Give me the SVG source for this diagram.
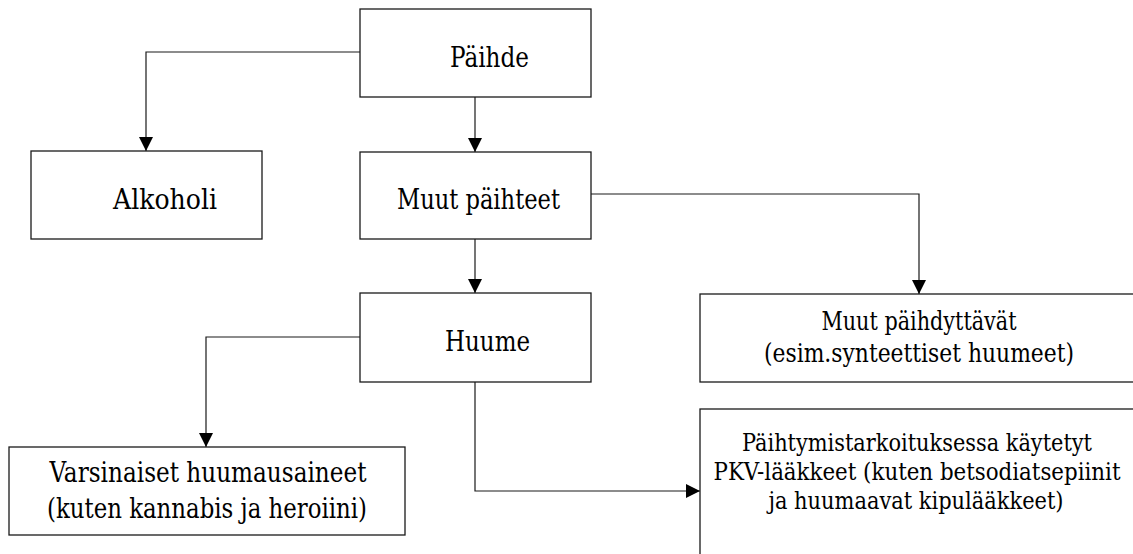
<svg xmlns="http://www.w3.org/2000/svg" width="1133" height="554" viewBox="0 0 1133 554">
<style>
  .box { fill: #ffffff; stroke: #1a1a1a; stroke-width: 1.3; }
  .conn { fill: none; stroke: #1a1a1a; stroke-width: 1.2; }
  text { font-family: 'DejaVu Serif Condensed', 'DejaVu Serif', serif; fill: #000; }
  .big { font-size: 27px; }
  .mid { font-size: 25.5px; }
  .small { font-size: 24px; }
  .c { text-anchor: middle; }
</style>
<defs>
  <marker id="arr" markerUnits="userSpaceOnUse" markerWidth="14" markerHeight="14" viewBox="0 0 14 14" refX="14" refY="7" orient="auto">
    <path d="M0,0 L14,7 L0,14 Z" fill="#000"/>
  </marker>
</defs>
<rect width="1133" height="554" fill="#ffffff"/>
<g id="connectors">
  <path class="conn" d="M360,52 H146 V151" marker-end="url(#arr)"/>
  <path class="conn" d="M475,97 V152" marker-end="url(#arr)"/>
  <path class="conn" d="M591,194 H919 V294" marker-end="url(#arr)"/>
  <path class="conn" d="M475,239 V293" marker-end="url(#arr)"/>
  <path class="conn" d="M360,337 H206 V447" marker-end="url(#arr)"/>
  <path class="conn" d="M475,382 V491 H700" marker-end="url(#arr)"/>
</g>
<g id="paihde">
  <rect class="box" x="360" y="9" width="231" height="88"/>
  <text class="big" x="450" y="67" textLength="79" lengthAdjust="spacingAndGlyphs">Päihde</text>
</g>
<g id="alkoholi">
  <rect class="box" x="31" y="151" width="231" height="88"/>
  <text class="big" x="113" y="209" textLength="104" lengthAdjust="spacingAndGlyphs">Alkoholi</text>
</g>
<g id="muut-paihteet">
  <rect class="box" x="360" y="152" width="231" height="87"/>
  <text class="big" x="397" y="209" textLength="163" lengthAdjust="spacingAndGlyphs">Muut päihteet</text>
</g>
<g id="huume">
  <rect class="box" x="360" y="293" width="231" height="89"/>
  <text class="big" x="445" y="351" textLength="85" lengthAdjust="spacingAndGlyphs">Huume</text>
</g>
<g id="muut-paihdyttavat">
  <rect class="box" x="700" y="294" width="440" height="88"/>
  <text class="mid c" x="919" y="330" textLength="195" lengthAdjust="spacingAndGlyphs">Muut päihdyttävät</text>
  <text class="mid c" x="919" y="362" textLength="310" lengthAdjust="spacingAndGlyphs">(esim.synteettiset huumeet)</text>
</g>
<g id="varsinaiset">
  <rect class="box" x="9" y="447" width="396" height="88"/>
  <text class="big c" x="208" y="482" textLength="317" lengthAdjust="spacingAndGlyphs">Varsinaiset huumausaineet</text>
  <text class="big c" x="207" y="518" textLength="320" lengthAdjust="spacingAndGlyphs">(kuten kannabis ja heroiini)</text>
</g>
<g id="pkv">
  <rect class="box" x="700" y="409" width="440" height="160"/>
  <text class="small c" x="917" y="451" textLength="350" lengthAdjust="spacingAndGlyphs">Päihtymistarkoituksessa käytetyt</text>
  <text class="small c" x="917" y="480" textLength="407" lengthAdjust="spacingAndGlyphs">PKV-lääkkeet (kuten betsodiatsepiinit</text>
  <text class="small c" x="916" y="509" textLength="295" lengthAdjust="spacingAndGlyphs">ja huumaavat kipulääkkeet)</text>
</g>
</svg>
